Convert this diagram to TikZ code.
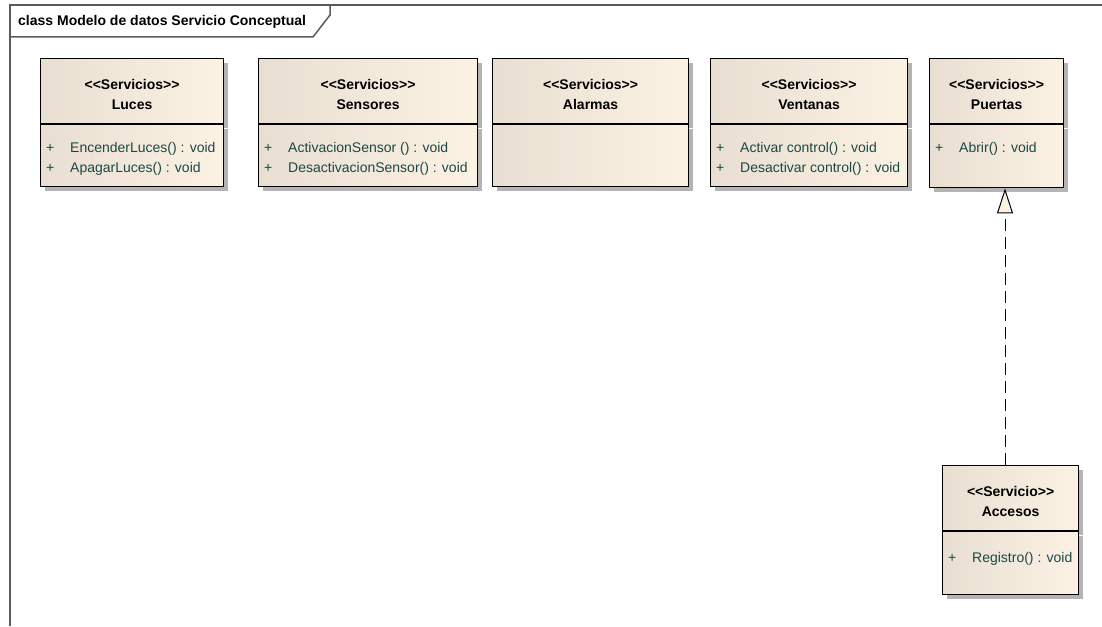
\documentclass[tikz,border=0pt]{standalone}
\usepackage{fontspec}
\setmainfont{Liberation Sans}
\usetikzlibrary{arrows.meta,shadows,calc}

\definecolor{umlleft}{HTML}{E8DED1}
\definecolor{umlright}{HTML}{FCF2E4}
\definecolor{opcolor}{HTML}{1B4846}
\definecolor{framegray}{HTML}{5A5A5A}
\definecolor{shadowgray}{HTML}{B4B4B4}

\tikzset{
  every node/.append style={font=\fontsize{14}{20}\selectfont},
  umlpart/.style={draw=black, line width=1.2pt, left color=umlleft, right color=umlright,
    anchor=north west, inner sep=0pt,
    drop shadow={shadow xshift=4pt, shadow yshift=-4pt, fill=shadowgray, opacity=1}},
  headtext/.style={font=\fontsize{14}{20}\selectfont\bfseries, align=center, inner sep=0pt},
  optext/.style={text=opcolor, anchor=north west, inner sep=0pt},
  framestyle/.style={draw=framegray, line width=1.5pt},
  realize/.style={dash pattern=on 12pt off 6pt, line width=1pt,
    -{Triangle[open, length=25pt, width=16pt, fill=umlright]}},
}

% operation compartment: visibility column + signature column
\newcommand\oplist[1]{{\renewcommand\arraystretch{1}\begin{tabular}{@{}p{24pt}@{}l@{}}#1\end{tabular}}}

\begin{document}
\begin{tikzpicture}[x=1pt, y=-1pt]
\useasboundingbox (0,0) rectangle (1102,626);

% diagram frame with its name tab
\draw[framestyle] (10,626) -- (10,5) -- (1102,5);
\draw[framestyle] (10,37) -- (313,37) -- (330,15) -- (330,5);
\node[font=\fontsize{14}{20}\selectfont\bfseries, anchor=west, inner sep=0pt] (frametitle) at (18,22)
  {class Modelo de datos Servicio Conceptual};

% Luces
\node[umlpart, minimum width=183pt, minimum height=65pt] (luces) at (40,58) {};
\node[headtext] (luces-title) at ($(luces.center)+(0,3)$) {<{}<Servicios>{}>\\Luces};
\node[umlpart, minimum width=183pt, minimum height=62pt] (luces-ops) at (luces.south west) {};
\node[optext] (luces-list) at ($(luces-ops.north west)+(6,14)$)
  {\oplist{+ & EncenderLuces() : void\\ + & ApagarLuces() : void}};

% Sensores
\node[umlpart, minimum width=219pt, minimum height=65pt] (sensores) at (258,58) {};
\node[headtext] (sensores-title) at ($(sensores.center)+(0,3)$) {<{}<Servicios>{}>\\Sensores};
\node[umlpart, minimum width=219pt, minimum height=62pt] (sensores-ops) at (sensores.south west) {};
\node[optext] (sensores-list) at ($(sensores-ops.north west)+(6,14)$)
  {\oplist{+ & ActivacionSensor () : void\\ + & DesactivacionSensor() : void}};

% Alarmas
\node[umlpart, minimum width=196pt, minimum height=65pt] (alarmas) at (492,58) {};
\node[headtext] (alarmas-title) at ($(alarmas.center)+(0,3)$) {<{}<Servicios>{}>\\Alarmas};
\node[umlpart, minimum width=196pt, minimum height=62pt] (alarmas-ops) at (alarmas.south west) {};

% Ventanas
\node[umlpart, minimum width=197pt, minimum height=65pt] (ventanas) at (710,58) {};
\node[headtext] (ventanas-title) at ($(ventanas.center)+(0,3)$) {<{}<Servicios>{}>\\Ventanas};
\node[umlpart, minimum width=197pt, minimum height=62pt] (ventanas-ops) at (ventanas.south west) {};
\node[optext] (ventanas-list) at ($(ventanas-ops.north west)+(6,14)$)
  {\oplist{+ & Activar control() : void\\ + & Desactivar control() : void}};

% Puertas
\node[umlpart, minimum width=134pt, minimum height=65pt] (puertas) at (929,58) {};
\node[headtext] (puertas-title) at ($(puertas.center)+(0,3)$) {<{}<Servicios>{}>\\Puertas};
\node[umlpart, minimum width=134pt, minimum height=63pt] (puertas-ops) at (puertas.south west) {};
\node[optext] (puertas-list) at ($(puertas-ops.north west)+(6,14)$)
  {\oplist{+ & Abrir() : void}};

% Accesos
\node[umlpart, minimum width=136pt, minimum height=65pt] (accesos) at (942,465) {};
\node[headtext] (accesos-title) at ($(accesos.center)+(0,3)$) {<{}<Servicio>{}>\\Accesos};
\node[umlpart, minimum width=136pt, minimum height=63pt] (accesos-ops) at (accesos.south west) {};
\node[optext] (accesos-list) at ($(accesos-ops.north west)+(6,17)$)
  {\oplist{+ & Registro() : void}};

% realization: Accesos -> Puertas
\coordinate (arrowx) at (1005,0);
\draw[realize] (accesos.north -| arrowx) -- (puertas-ops.south -| arrowx);

\end{tikzpicture}
\end{document}
